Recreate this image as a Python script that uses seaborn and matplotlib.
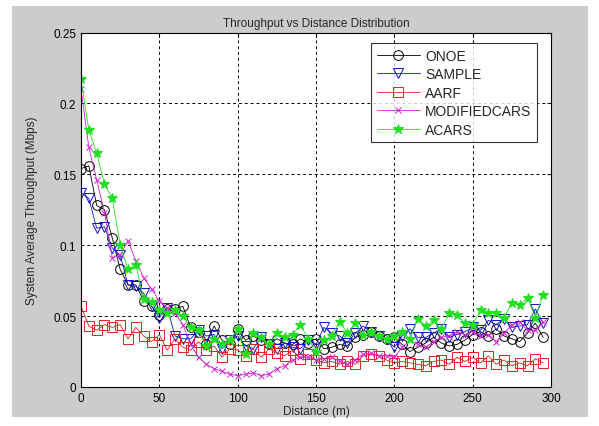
import numpy as np
import pandas as pd
import matplotlib
matplotlib.use("Agg")
import matplotlib.pyplot as plt
import seaborn as sns
from matplotlib.patches import Rectangle

distance = list(range(0, 300, 5))

onoe = [0.154, 0.156, 0.128, 0.125, 0.105, 0.083, 0.072, 0.072, 0.061, 0.057,
        0.051, 0.055, 0.055, 0.057, 0.042, 0.039, 0.030, 0.043, 0.033, 0.030,
        0.041, 0.033, 0.036, 0.033, 0.030, 0.034, 0.031, 0.030, 0.034, 0.031,
        0.034, 0.027, 0.028, 0.030, 0.029, 0.035, 0.037, 0.039, 0.036, 0.034,
        0.035, 0.030, 0.025, 0.028, 0.031, 0.035, 0.031, 0.029, 0.030, 0.033,
        0.037, 0.039, 0.036, 0.041, 0.036, 0.034, 0.032, 0.038, 0.045, 0.035]

sample = [0.137, 0.133, 0.112, 0.113, 0.098, 0.093, 0.072, 0.071, 0.066, 0.057,
          0.049, 0.056, 0.036, 0.034, 0.034, 0.040, 0.036, 0.037, 0.027, 0.033,
          0.036, 0.029, 0.027, 0.035, 0.030, 0.027, 0.031, 0.028, 0.027, 0.033,
          0.030, 0.042, 0.038, 0.036, 0.031, 0.038, 0.043, 0.039, 0.036, 0.034,
          0.028, 0.036, 0.041, 0.035, 0.035, 0.038, 0.041, 0.035, 0.037, 0.039,
          0.042, 0.040, 0.047, 0.044, 0.048, 0.042, 0.043, 0.044, 0.055, 0.045]

aarf = [0.057, 0.043, 0.040, 0.044, 0.042, 0.044, 0.034, 0.042, 0.036, 0.032,
        0.037, 0.026, 0.034, 0.028, 0.026, 0.032, 0.026, 0.029, 0.021, 0.027,
        0.026, 0.022, 0.027, 0.021, 0.027, 0.024, 0.022, 0.026, 0.020, 0.023,
        0.019, 0.017, 0.018, 0.016, 0.018, 0.016, 0.022, 0.023, 0.022, 0.019,
        0.017, 0.018, 0.017, 0.016, 0.015, 0.018, 0.019, 0.016, 0.021, 0.018,
        0.021, 0.017, 0.022, 0.016, 0.019, 0.015, 0.017, 0.015, 0.020, 0.017]

modifiedcars = [0.210, 0.169, 0.146, 0.123, 0.091, 0.093, 0.103, 0.089, 0.077, 0.069,
                0.061, 0.056, 0.052, 0.044, 0.030, 0.021, 0.016, 0.013, 0.011, 0.009,
                0.008, 0.009, 0.010, 0.008, 0.009, 0.013, 0.015, 0.019, 0.021, 0.021,
                0.019, 0.020, 0.021, 0.018, 0.016, 0.019, 0.023, 0.024, 0.022, 0.022,
                0.021, 0.028, 0.033, 0.030, 0.028, 0.032, 0.035, 0.036, 0.039, 0.037,
                0.039, 0.036, 0.037, 0.032, 0.038, 0.044, 0.046, 0.040, 0.040, 0.046]

acars = [0.217, 0.181, 0.165, 0.143, 0.133, 0.100, 0.083, 0.086, 0.062, 0.060,
         0.054, 0.052, 0.054, 0.050, 0.042, 0.040, 0.029, 0.034, 0.030, 0.033,
         0.041, 0.023, 0.038, 0.035, 0.030, 0.038, 0.035, 0.037, 0.044, 0.034,
         0.025, 0.033, 0.036, 0.046, 0.038, 0.045, 0.037, 0.039, 0.036, 0.034,
         0.036, 0.039, 0.034, 0.048, 0.043, 0.047, 0.041, 0.052, 0.051, 0.045,
         0.044, 0.054, 0.052, 0.052, 0.049, 0.059, 0.058, 0.063, 0.049, 0.065]

series = [
    ("ONOE", onoe, "black", "o", True),
    ("SAMPLE", sample, "#1010c8", "v", True),
    ("AARF", aarf, "#e02020", "s", True),
    ("MODIFIEDCARS", modifiedcars, "#d020d0", "x", False),
    ("ACARS", acars, "#20e020", "*", False),
]

sns.set_style("white")
plt.rcParams["font.family"] = ["Liberation Sans", "DejaVu Sans"]

fig = plt.figure(figsize=(5.99, 4.27), dpi=100)
fig.patch.set_facecolor("white")
fig.patches.append(Rectangle((12 / 599, 1 - 418 / 427), (588 - 12) / 599, (418 - 7) / 427,
                             transform=fig.transFigure, facecolor="#cccccc",
                             edgecolor="none", zorder=-10))
ax = fig.add_axes([81 / 599, 1 - 388 / 427, (551 - 81) / 599, (388 - 33.5) / 427])
ax.set_facecolor("white")

for name, vals, color, marker, hollow in series:
    df = pd.DataFrame({"Distance": distance, "Throughput": vals})
    kw = dict(marker=marker, color=color, linewidth=0.6, label=name,
              markeredgecolor=color, markeredgewidth=0.7)
    if hollow:
        kw["markerfacecolor"] = "none"
        kw["markersize"] = 7
    else:
        kw["markerfacecolor"] = color
        kw["markersize"] = 4 if marker == "x" else 7
    sns.lineplot(data=df, x="Distance", y="Throughput", ax=ax, **kw)

ax.set_xlim(0, 300)
ax.set_ylim(0, 0.25)
ax.set_xticks([0, 50, 100, 150, 200, 250, 300])
ax.set_yticks([0, 0.05, 0.1, 0.15, 0.2, 0.25])
ax.set_yticklabels(["0", "0.05", "0.1", "0.15", "0.2", "0.25"])
ax.grid(True, linestyle=(0, (3, 3)), color="black", linewidth=0.7)
ax.set_axisbelow(True)
for s in ax.spines.values():
    s.set_color("black")
    s.set_linewidth(0.8)
ax.tick_params(axis="both", labelsize=8.5, direction="in", length=3, colors="black",
               top=True, right=True)
ax.set_xlabel("Distance (m)", fontsize=8.5, labelpad=1)
ax.set_ylabel("System Average Throughput (Mbps)", fontsize=8.5, labelpad=11)
ax.set_title("Throughput vs Distance Distribution", fontsize=8.5, pad=5)

leg = ax.legend(loc="upper right", fontsize=10, frameon=True, fancybox=False,
                edgecolor="black", handlelength=3.1, handletextpad=0.4,
                borderpad=0.4, labelspacing=0.33, bbox_to_anchor=(0.985, 0.99))
leg.get_frame().set_linewidth(0.8)

fig.savefig("out.png", dpi=100, facecolor=fig.get_facecolor())
